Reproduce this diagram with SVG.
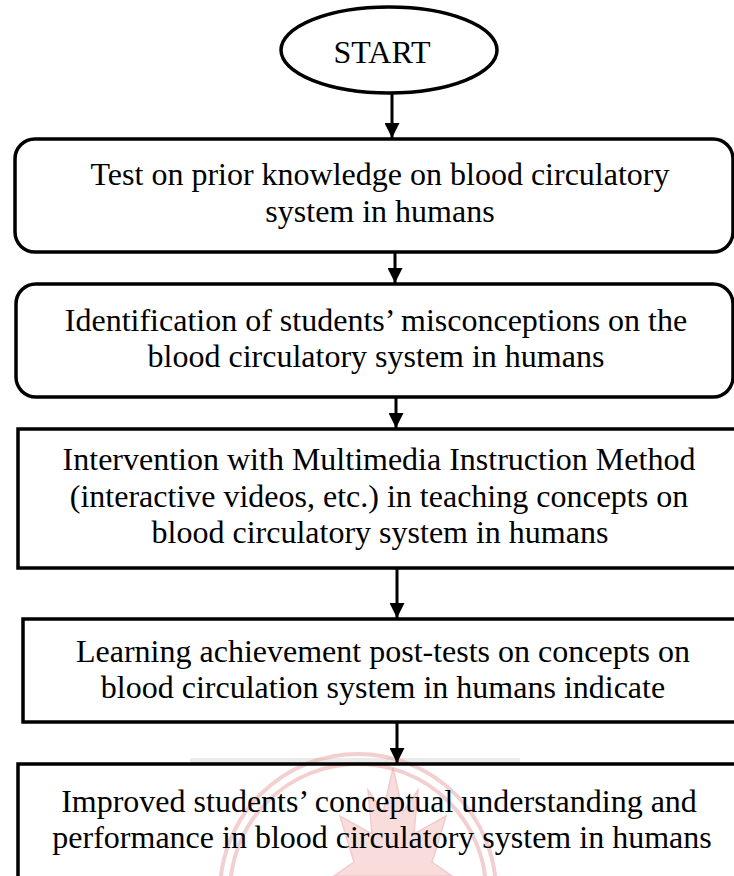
<svg xmlns="http://www.w3.org/2000/svg" width="734" height="876" viewBox="0 0 734 876">
  <style>
    .box { fill: #ffffff; stroke: #000000; stroke-width: 3.5; }
    .open { fill: none; stroke: #000000; stroke-width: 3.5; }
    .lbl { font-family: "Liberation Serif", "Times New Roman", serif; font-size: 32px; fill: #000000; text-anchor: middle; }
    .conn { stroke: #000000; stroke-width: 3; fill: none; marker-end: url(#arrow); }
    .wm { fill: none; stroke: #eaa8a8; stroke-width: 4; opacity: 0.55; }
    .wmf { fill: #f4bcbc; stroke: #e59a9a; stroke-width: 1.5; opacity: 0.5; }
  </style>
  <defs>
    <marker id="arrow" viewBox="0 0 10 10" refX="10" refY="5" markerWidth="5" markerHeight="5" markerUnits="strokeWidth" orient="auto">
      <path d="M0,0 L10,5 L0,10 z" fill="#000000"/>
    </marker>
  </defs>
  <rect width="734" height="876" fill="#ffffff"/>

  <g id="watermark">
    <rect x="190" y="758" width="330" height="6" fill="#d8d8d8" opacity="0.5"/>
    <circle class="wm" cx="358" cy="892" r="138"/>
    <circle class="wm" cx="358" cy="892" r="128" stroke-width="2"/>
    <path class="wmf" d="M393,768 L403,812 L418,790 L414,834 L446,816 L432,862 L452,876 L334,876 L354,862 L340,816 L372,834 L368,790 L383,812 Z"/>
  </g>

  <g id="start">
    <ellipse class="box" cx="389" cy="50" rx="108" ry="43"/>
    <text class="lbl" x="382" y="63">START</text>
  </g>

  <g id="step1">
    <rect class="box" x="15" y="139" width="718" height="113" rx="20" ry="20"/>
    <text class="lbl" x="380" y="185">Test on prior knowledge on blood circulatory</text>
    <text class="lbl" x="380" y="222">system in humans</text>
  </g>

  <g id="step2">
    <rect class="box" x="16" y="284" width="717" height="113" rx="20" ry="20"/>
    <text class="lbl" x="376" y="331">Identification of students’ misconceptions on the</text>
    <text class="lbl" x="376" y="367">blood circulatory system in humans</text>
  </g>

  <g id="step3">
    <rect class="box" x="18" y="429" width="730" height="139"/>
    <text class="lbl" x="379" y="470">Intervention with Multimedia Instruction Method</text>
    <text class="lbl" x="379" y="507">(interactive videos, etc.) in teaching concepts on</text>
    <text class="lbl" x="380" y="543">blood circulatory system in humans</text>
  </g>

  <g id="step4">
    <rect class="box" x="23" y="619" width="725" height="103"/>
    <text class="lbl" x="383" y="662">Learning achievement post-tests on concepts on</text>
    <text class="lbl" x="383" y="698">blood circulation system in humans indicate</text>
  </g>

  <g id="step5">
    <rect class="open" x="18" y="764" width="730" height="130"/>
    <text class="lbl" x="379" y="812">Improved students’ conceptual understanding and</text>
    <text class="lbl" x="382" y="848">performance in blood circulatory system in humans</text>
  </g>

  <g id="connectors">
    <line class="conn" x1="392" y1="93" x2="392" y2="138"/>
    <line class="conn" x1="395" y1="252" x2="395" y2="283"/>
    <line class="conn" x1="396" y1="397" x2="396" y2="428"/>
    <line class="conn" x1="397" y1="568" x2="397" y2="618"/>
    <line class="conn" x1="397" y1="722" x2="397" y2="763"/>
  </g>
</svg>
